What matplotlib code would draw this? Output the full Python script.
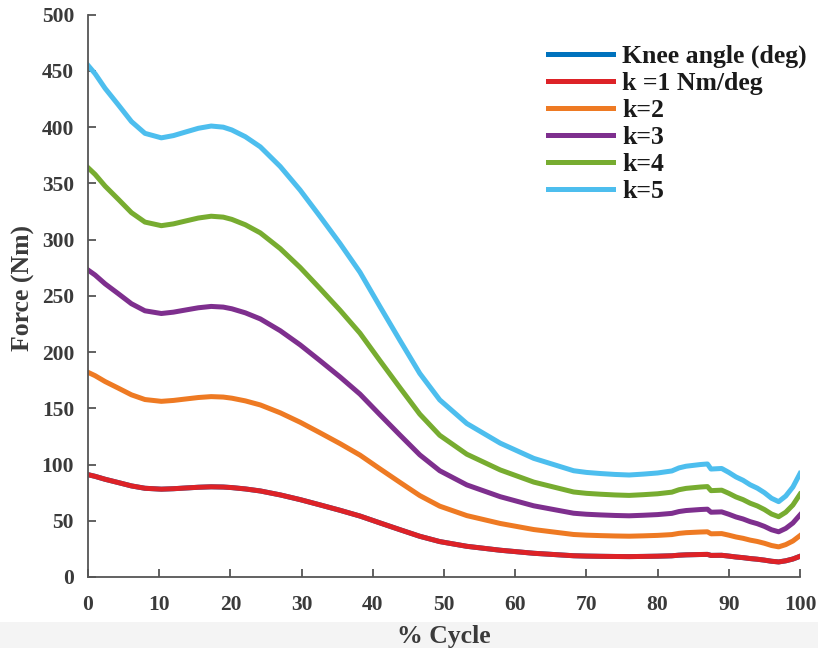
import matplotlib
matplotlib.use("Agg")
import matplotlib.pyplot as plt
from matplotlib.patches import Rectangle

# % of gait cycle
cycle = [0, 1, 2.4, 4.3, 6.1, 8, 10.3, 12, 13.6, 15.5, 17.3, 19, 20.2, 22.1, 24.2, 27,
         29.8, 32.6, 35.4, 38.2, 41, 43.8, 46.6, 49.4, 53.2, 57.9, 62.6, 68.2, 70, 72,
         74, 76, 78, 80, 82, 83, 84, 86, 87, 87.5, 89, 90, 91, 92, 93, 94, 95, 96, 97,
         98, 99, 100]
# knee angle (deg)
knee_angle = [91.0, 89.5, 86.9, 83.9, 81.0, 78.9, 78.1, 78.5, 79.1, 79.8, 80.2, 80.0,
              79.5, 78.3, 76.5, 73.0, 68.8, 64.1, 59.3, 54.2, 48.1, 42.1, 36.2, 31.5,
              27.3, 23.8, 21.1, 18.9, 18.6, 18.4, 18.24, 18.14, 18.3, 18.5, 18.86, 19.4,
              19.7, 20.0, 20.1, 19.2, 19.3, 18.6, 17.8, 17.2, 16.4, 15.8, 15.0, 14.0,
              13.4, 14.4, 16.0, 18.4]
# stiffness values (Nm/deg)
stiffness = [1, 2, 3, 4, 5]
labels = ["Knee angle (deg)", "k =1 Nm/deg", "k=2", "k=3", "k=4", "k=5"]
colors = ["#0072BD", "#DD2227", "#EE7A23", "#7E2F8E", "#77AC30", "#4DBEEE"]

plt.rcParams['font.family'] = ['Liberation Serif', 'DejaVu Serif']
plt.rcParams['font.weight'] = 'bold'

fig = plt.figure(figsize=(8.18, 6.48), dpi=100)
band = Rectangle((0, 0), 1, 26 / 648, transform=fig.transFigure,
                 facecolor="#f4f4f4", edgecolor="none", zorder=-5)
fig.add_artist(band)
ax = fig.add_axes([88 / 818, 1 - 577 / 648, 712 / 818, (577 - 14.7) / 648])
ax.patch.set_alpha(0)

ax.plot(cycle, knee_angle, color=colors[0], lw=3.6, label=labels[0])
for k, c, lab in zip(stiffness, colors[1:], labels[1:]):
    ax.plot(cycle, [k * a for a in knee_angle], color=c, lw=3.6, label=lab)

ax.set_xlim(0, 100)
ax.set_ylim(0, 500)
ax.set_xticks(range(0, 101, 10))
ax.set_yticks(range(0, 501, 50))
for s in ["top", "right"]:
    ax.spines[s].set_visible(False)
for s in ["left", "bottom"]:
    ax.spines[s].set_color("#555555")
    ax.spines[s].set_linewidth(1.3)
ax.tick_params(direction="in", length=6, width=1.3, color="#555555",
               labelsize=15.5, labelcolor="#3a3a3a")
ax.tick_params(axis="x", pad=13)
ax.tick_params(axis="y", pad=10)
for t in ax.get_xticklabels() + ax.get_yticklabels():
    t.set_fontweight("bold")

ax.set_xlabel("% Cycle", fontsize=18.5, fontweight="bold", color="#3a3a3a", va="center")
ax.xaxis.set_label_coords(0.5, (577 - 636) / 562.3)
ax.set_ylabel("Force (Nm)", fontsize=18.5, fontweight="bold", color="#3a3a3a", va="center")
ax.yaxis.set_label_coords((23 - 88) / 712, (577 - 288) / 562.3)

leg = ax.legend(loc="upper left", bbox_to_anchor=(0.646, (577 - 45) / 562.3), frameon=False,
                prop={"family": "Liberation Serif", "weight": "bold", "size": 18.5},
                handlelength=2.53, handletextpad=0.35, labelspacing=0.15,
                borderaxespad=0, borderpad=0)
for t in leg.get_texts():
    t.set_color("#1a1a1a")

fig.savefig("out.png", dpi=100)
